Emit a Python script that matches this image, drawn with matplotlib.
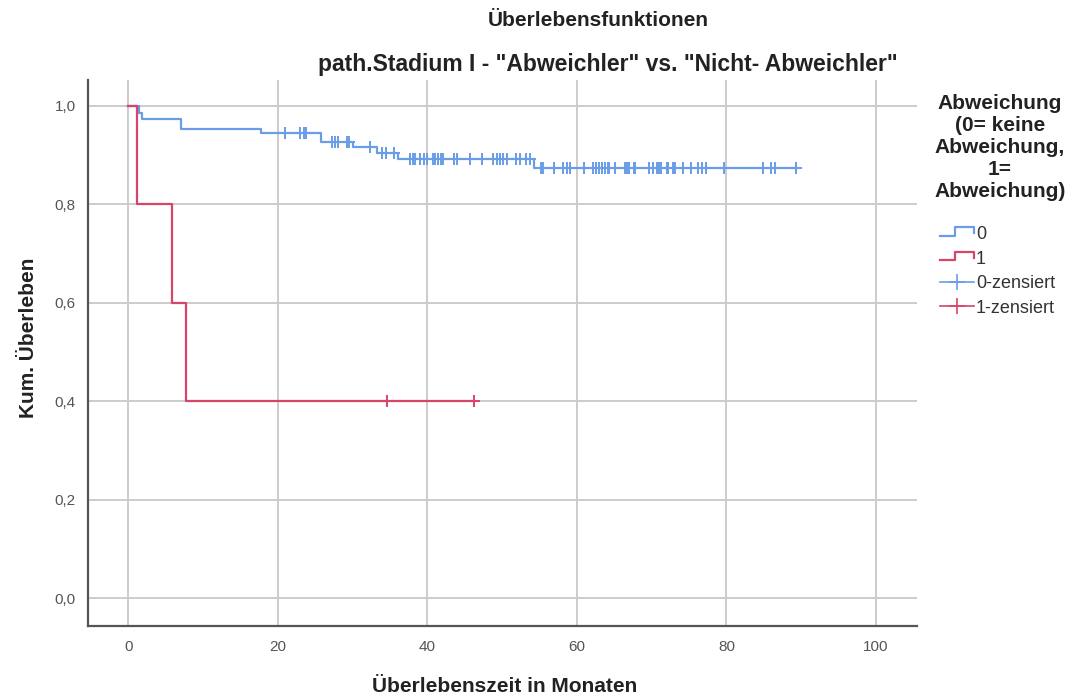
import numpy as np
import matplotlib
matplotlib.use("Agg")
import matplotlib.pyplot as plt
from matplotlib.lines import Line2D
from matplotlib.legend_handler import HandlerBase

plt.rcParams['font.family'] = ['Liberation Sans', 'DejaVu Sans']

# ── Daten ────────────────────────────────────────────────────────────
# Gruppe 0 (keine Abweichung)
t0_events = [0, 1.4, 1.8, 7.0, 17.7, 25.8, 30.0, 33.3, 36.1, 54.3]
s0_events = [1.0, 0.986, 0.973, 0.953, 0.946, 0.927, 0.916, 0.904, 0.892, 0.874]
t0_end = 89.3
t0_censored = [21.0, 23.0, 23.5, 23.8, 27.2, 27.7, 28.1, 29.2, 29.5, 32.3,
               33.9, 34.5, 35.5, 37.7, 38.1, 38.4, 39.0, 39.5, 39.9, 40.7,
               41.0, 41.4, 41.8, 42.1, 43.6, 43.9, 45.7, 47.3, 48.8, 49.3,
               49.7, 50.1, 50.6, 51.9, 52.4, 53.2, 53.7, 55.2, 55.4, 56.9,
               58.2, 58.7, 59.1, 60.9, 62.2, 62.6, 62.9, 63.3, 63.8, 64.1,
               64.3, 65.1, 66.4, 66.7, 67.0, 67.6, 67.8, 69.6, 70.2, 70.7,
               71.0, 71.3, 72.0, 72.2, 72.8, 73.1, 74.2, 75.3, 76.2, 76.7,
               77.3, 79.7, 84.9, 86.0, 86.5, 89.3]

# Gruppe 1 (Abweichung)
t1_events = [0, 1.1, 5.9, 7.7]
s1_events = [1.0, 0.8, 0.6, 0.4]
t1_end = 46.3
t1_censored = [34.6, 46.3]

x_ticks = [0, 20, 40, 60, 80, 100]
y_ticks = [0.0, 0.2, 0.4, 0.6, 0.8, 1.0]
y_ticklabels = ["0,0", "0,2", "0,4", "0,6", "0,8", "1,0"]

legend_title = "Abweichung\n(0= keine\nAbweichung,\n1=\nAbweichung)"
legend_labels = ["0", "1", "0-zensiert", "1-zensiert"]

BLUE = "#6a9de6"
RED = "#d8446b"


def surv_at(times, surv, t):
    idx = np.searchsorted(times, t, side="right") - 1
    return np.asarray(surv)[idx]


fig = plt.figure(figsize=(10.78, 7.0), dpi=100)
ax = fig.add_axes([88 / 1078, 1 - 625.7 / 700, (916.7 - 88) / 1078, (625.7 - 80) / 700])

for times, surv, t_end, cens, col in [
    (t0_events, s0_events, t0_end, t0_censored, BLUE),
    (t1_events, s1_events, t1_end, t1_censored, RED),
]:
    ax.step(list(times) + [t_end], list(surv) + [surv[-1]], where="post",
            color=col, linewidth=1.6, zorder=3)
    ax.plot(cens, surv_at(times, surv, cens), linestyle="none", marker="+",
            markersize=9, markeredgewidth=1.4, color=col, zorder=4)

ax.set_xlim(-5.39, 105.44)
ax.set_ylim(-0.0557, 1.0528)
ax.set_xticks(x_ticks)
ax.set_yticks(y_ticks)
ax.set_yticklabels(y_ticklabels)
ax.tick_params(length=0, labelsize=11, labelcolor="#555555")
ax.tick_params(axis="y", pad=9)
ax.tick_params(axis="x", pad=10)
ax.grid(True, color="#cccccc", linewidth=1.4)
ax.set_axisbelow(True)
for side in ["top", "right"]:
    ax.spines[side].set_visible(False)
for side in ["left", "bottom"]:
    ax.spines[side].set_color("#555555")
    ax.spines[side].set_linewidth(1.6)

fig.text(598 / 1078, 1 - 20 / 700, "Überlebensfunktionen", ha="center", va="center",
         fontsize=15, fontweight="bold", color="#222222")
fig.text(608 / 1078, 1 - 65 / 700, 'path.Stadium I - "Abweichler" vs. "Nicht- Abweichler"',
         ha="center", va="center", fontsize=16.5, fontweight="bold", color="#222222")
fig.text(505 / 1078, 1 - 687 / 700, "Überlebenszeit in Monaten", ha="center", va="center",
         fontsize=15, fontweight="bold", color="#222222")
fig.text(28 / 1078, 1 - 338 / 700, "Kum. Überleben", ha="center", va="center",
         rotation=90, fontsize=15, fontweight="bold", color="#222222")

# Legendentitel separat
fig.text(1000 / 1078, 1 - 94 / 700, legend_title, ha="center", va="top",
         multialignment="center", fontsize=15, fontweight="bold", color="#222222")


# Legende mit Treppensymbol
class StepHandler(HandlerBase):
    def create_artists(self, legend, orig_handle, xdescent, ydescent,
                       width, height, fontsize, trans):
        x0, w, h = -xdescent, width, height
        xs = [x0, x0 + 0.45 * w, x0 + 0.45 * w, x0 + w, x0 + w]
        ys = [0.25 * h - ydescent, 0.25 * h - ydescent, 0.95 * h - ydescent,
              0.95 * h - ydescent, 0.45 * h - ydescent]
        line = Line2D(xs, ys, color=orig_handle.get_color(), linewidth=1.6,
                      transform=trans)
        return [line]


h0 = Line2D([], [], color=BLUE)
h1 = Line2D([], [], color=RED)
h0c = Line2D([], [], color=BLUE, marker="+", markersize=12, markeredgewidth=1.2, linewidth=1.2)
h1c = Line2D([], [], color=RED, marker="+", markersize=12, markeredgewidth=1.2, linewidth=1.2)

leg = fig.legend([h0, h1, h0c, h1c], legend_labels,
                 handler_map={h0: StepHandler(), h1: StepHandler()},
                 loc="upper left", bbox_to_anchor=(940 / 1078, 1 - 226 / 700),
                 frameon=False, fontsize=13, handlelength=1.9, handletextpad=0.1,
                 labelspacing=0.42, borderpad=0, borderaxespad=0, numpoints=1)
for txt in leg.get_texts():
    txt.set_color("#333333")

fig.savefig("out.png", dpi=100)
